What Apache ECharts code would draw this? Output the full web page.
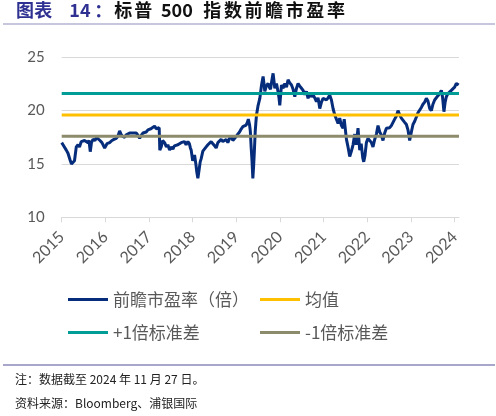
<!DOCTYPE html>
<html>
<head>
<meta charset="utf-8">
<script src="https://cdn.jsdelivr.net/npm/echarts@6/dist/echarts.min.js"></script>
<style>
  html, body { margin: 0; padding: 0; background: #fff; }
  #chart { width: 496px; height: 416px; }
</style>
</head>
<body>
<div id="chart"></div>
<script>
// 横轴位置（年，按图中刻度读出）
const years = [
  2015.000, 2015.030, 2015.064, 2015.105, 2015.144, 2015.190, 2015.224, 2015.259, 2015.293, 2015.334,
  2015.373, 2015.407, 2015.449, 2015.487, 2015.522, 2015.563, 2015.602, 2015.625, 2015.654, 2015.682,
  2015.716, 2015.762, 2015.796, 2015.831, 2015.876, 2015.922, 2015.984, 2016.037, 2016.098, 2016.151,
  2016.197, 2016.249, 2016.288, 2016.327, 2016.357, 2016.391, 2016.442, 2016.471, 2016.506, 2016.556,
  2016.597, 2016.632, 2016.666, 2016.707, 2016.746, 2016.785, 2016.826, 2016.860, 2016.895, 2016.936,
  2016.975, 2017.014, 2017.043, 2017.078, 2017.128, 2017.165, 2017.204, 2017.233, 2017.247, 2017.279,
  2017.313, 2017.357, 2017.398, 2017.432, 2017.471, 2017.513, 2017.547, 2017.581, 2017.622, 2017.661,
  2017.696, 2017.735, 2017.776, 2017.810, 2017.849, 2017.890, 2017.924, 2017.947, 2017.966, 2018.000,
  2018.043, 2018.073, 2018.096, 2018.119, 2018.149, 2018.172, 2018.195, 2018.233, 2018.268, 2018.309,
  2018.348, 2018.382, 2018.423, 2018.462, 2018.503, 2018.538, 2018.577, 2018.611, 2018.652, 2018.691,
  2018.730, 2018.767, 2018.805, 2018.844, 2018.886, 2018.920, 2018.959, 2019.000, 2019.034, 2019.073,
  2019.114, 2019.149, 2019.183, 2019.224, 2019.252, 2019.275, 2019.302, 2019.320, 2019.339, 2019.359,
  2019.378, 2019.396, 2019.414, 2019.432, 2019.446, 2019.462, 2019.499, 2019.538, 2019.577, 2019.613,
  2019.634, 2019.652, 2019.686, 2019.728, 2019.755, 2019.783, 2019.812, 2019.842, 2019.881, 2019.920,
  2019.954, 2019.977, 2019.995, 2020.034, 2020.071, 2020.110, 2020.149, 2020.185, 2020.224, 2020.263,
  2020.300, 2020.339, 2020.378, 2020.414, 2020.453, 2020.492, 2020.529, 2020.567, 2020.606, 2020.643,
  2020.682, 2020.721, 2020.757, 2020.796, 2020.835, 2020.872, 2020.911, 2020.950, 2020.986, 2021.025,
  2021.064, 2021.101, 2021.140, 2021.178, 2021.215, 2021.254, 2021.293, 2021.330, 2021.368, 2021.407,
  2021.444, 2021.471, 2021.522, 2021.558, 2021.597, 2021.636, 2021.673, 2021.712, 2021.746, 2021.787,
  2021.826, 2021.860, 2021.895, 2021.918, 2021.947, 2021.979, 2022.016, 2022.055, 2022.094, 2022.130,
  2022.169, 2022.208, 2022.245, 2022.284, 2022.323, 2022.359, 2022.398, 2022.437, 2022.474, 2022.513,
  2022.551, 2022.588, 2022.627, 2022.666, 2022.703, 2022.741, 2022.780, 2022.817, 2022.856, 2022.895,
  2022.931, 2022.970, 2023.009, 2023.046, 2023.085, 2023.124, 2023.160, 2023.199, 2023.238, 2023.275,
  2023.314, 2023.352, 2023.389, 2023.428, 2023.467, 2023.503, 2023.542, 2023.581, 2023.618, 2023.657,
  2023.696, 2023.725, 2023.755, 2023.783, 2023.810, 2023.847, 2023.886, 2023.924, 2023.961, 2024.000,
  2024.039, 2024.069, 2024.092
];

// 前瞻市盈率（倍）
const forwardPE = [
  17.0, 16.8, 16.9, 16.3, 16.0, 15.4, 15.0, 14.9, 15.3, 16.6,
  16.8, 16.6, 17.1, 17.0, 17.2, 17.3, 17.0, 17.2, 16.15, 17.0,
  17.3, 17.2, 17.5, 17.4, 17.2, 17.0, 16.5, 16.9, 17.0, 17.2,
  17.3, 17.4, 17.6, 18.1, 17.8, 17.6, 17.5, 17.7, 17.6, 17.9,
  17.8, 17.9, 17.8, 17.9, 17.7, 17.4, 17.7, 17.9, 17.8, 18.0,
  18.2, 18.1, 18.3, 18.4, 18.55, 18.3, 18.2, 18.4, 16.3, 16.6,
  17.2, 17.0, 16.6, 16.8, 16.3, 16.6, 16.4, 16.7, 16.6, 16.8,
  16.7, 17.0, 17.0, 17.1, 16.8, 17.1, 16.9, 16.5, 16.3, 15.3,
  15.85, 15.0, 14.2, 13.65, 14.5, 15.2, 15.5, 16.2, 16.3, 16.6,
  16.8, 16.7, 17.1, 16.9, 16.7, 16.5, 17.0, 17.1, 17.3, 17.1,
  17.0, 17.3, 17.0, 17.4, 17.6, 17.2, 17.3, 17.6, 17.8, 18.0,
  18.3, 18.5, 18.4, 18.65, 18.9, 19.2, 18.7, 18.1, 16.6, 15.3,
  13.65, 14.8, 16.3, 18.0, 18.8, 19.6, 20.5, 21.15, 22.4, 23.2,
  22.5, 21.8, 22.3, 22.55, 22.2, 22.0, 22.8, 23.5, 22.1, 22.55,
  21.8, 21.2, 20.5, 22.4, 22.1, 22.55, 22.2, 22.9, 22.6, 22.4,
  22.0, 21.3, 22.1, 22.55, 22.3, 22.1, 21.9, 21.5, 21.8, 21.15,
  21.6, 21.3, 21.5, 21.2, 20.85, 21.2, 20.2, 20.8, 21.15, 21.3,
  21.0, 21.2, 21.45, 21.0, 20.2, 19.6, 19.5, 18.8, 19.3, 18.6,
  18.35, 19.2, 17.3, 16.6, 15.7, 16.2, 16.8, 17.8, 16.8, 18.35,
  16.3, 16.9, 15.6, 15.2, 15.8, 17.0, 17.4, 17.5, 17.0, 16.6,
  17.3, 17.8, 18.6, 18.0, 17.7, 17.2, 17.9, 18.35, 18.2, 18.4,
  18.6, 18.5, 19.2, 19.5, 20.0, 19.6, 19.3, 19.3, 18.9, 18.7,
  18.2, 17.2, 18.0, 18.7, 19.0, 19.4, 19.8, 19.9, 20.3, 20.6,
  20.8, 21.15, 20.9, 20.2, 20.0, 20.6, 21.0, 21.1, 21.4, 21.6,
  21.9, 21.2, 19.9, 20.8, 21.3, 21.6, 21.7, 21.9, 22.0, 22.2,
  22.55, 22.5, 22.4
];

const xRange = [2015, 2024.1];
const yearTicks = [2015, 2016, 2017, 2018, 2019, 2020, 2021, 2022, 2023, 2024];
const meanValue = 19.6;
const plusOneStd = 21.6;
const minusOneStd = 17.6;

const names = ['前瞻市盈率（倍）', '均值', '+1倍标准差', '-1倍标准差'];
const colors = ['#062D7B', '#FFC000', '#009C96', '#8C8B6B'];

const cnFont = '"Noto Sans CJK SC", "Noto Sans", sans-serif';

// 标题逐字排开，字距较宽
const titleParts = [
  ['a', '图', 18.3], ['a', '表', 35], ['a', '14', 25], ['a', '：', 20],
  ['b', '标', 20], ['b', '普', 26.7], ['b', '500', 42.3], ['b', '指', 20.6],
  ['b', '数', 20.6], ['b', '前', 20.6], ['b', '瞻', 20.6], ['b', '市', 20.6],
  ['b', '盈', 20.6], ['b', '率', 20.6]
];

function flatLine(v) {
  return xRange.map(x => [x, v]);
}

function buildTitle() {
  const rich = {};
  const text = titleParts.map(([k, s, w], i) => {
    const key = k + i;
    rich[key] = {
      width: w,
      align: 'left',
      color: k === 'a' ? '#2E3191' : '#111',
      fontSize: 18,
      fontWeight: 'bold',
      fontFamily: cnFont
    };
    return '{' + key + '|' + s + '}';
  }).join('');
  return { text, rich };
}

const title = buildTitle();

const chart = echarts.init(document.getElementById('chart'), null, { renderer: 'canvas' });

const legendBase = {
  orient: 'vertical',
  top: 291,
  padding: 0,
  itemGap: 16,
  itemWidth: 40,
  itemHeight: 3,
  icon: 'rect',
  selectedMode: false,
  textStyle: { color: '#595959', fontSize: 17, fontFamily: cnFont }
};

chart.setOption({
  animation: false,
  backgroundColor: '#fff',
  color: colors,
  title: {
    left: 16,
    top: 1,
    padding: 0,
    text: title.text,
    textStyle: { rich: title.rich }
  },
  graphic: [
    { type: 'line', shape: { x1: 3, y1: 24, x2: 495, y2: 24 }, style: { stroke: '#8E8DC0', lineWidth: 1.2 } },
    { type: 'line', shape: { x1: 3, y1: 365, x2: 495, y2: 365 }, style: { stroke: '#A9A6CC', lineWidth: 2 } },
    { type: 'text', left: 15, top: 373, style: { text: '注：数据截至 2024 年 11 月 27 日。', fill: '#222', font: '12px ' + cnFont } },
    { type: 'text', left: 15, top: 397, style: { text: '资料来源：Bloomberg、浦银国际', fill: '#222', font: '12px ' + cnFont } }
  ],
  legend: [
    Object.assign({ left: 68, data: [names[0], names[2]] }, legendBase),
    Object.assign({ left: 260, data: [names[1], names[3]] }, legendBase)
  ],
  grid: { left: 61.7, right: 37, top: 57.3, bottom: 198.7 },
  xAxis: {
    type: 'value',
    min: xRange[0],
    max: xRange[1],
    axisLine: { show: true, lineStyle: { color: '#D9D9D9', width: 1 } },
    axisTick: { show: true, length: 5, customValues: yearTicks, lineStyle: { color: '#D9D9D9' } },
    axisLabel: {
      customValues: yearTicks,
      rotate: 45,
      margin: 17,
      color: '#595959',
      fontSize: 16,
      fontFamily: 'Lato, "Open Sans", sans-serif',
      formatter: v => String(Math.round(v))
    },
    splitLine: { show: false }
  },
  yAxis: {
    type: 'value',
    min: 10,
    max: 25,
    interval: 5,
    axisLine: { show: false },
    axisTick: { show: false },
    axisLabel: { color: '#595959', fontSize: 15, margin: 17, fontFamily: 'Lato, "Open Sans", sans-serif' },
    splitLine: { lineStyle: { color: '#D9D9D9', width: 1 } }
  },
  series: [
    {
      name: names[0],
      type: 'line',
      data: years.map((x, i) => [x, forwardPE[i]]),
      symbol: 'none',
      lineStyle: { width: 3, color: colors[0] }
    },
    {
      name: names[1],
      type: 'line',
      data: flatLine(meanValue),
      symbol: 'none',
      lineStyle: { width: 3, color: colors[1] }
    },
    {
      name: names[2],
      type: 'line',
      data: flatLine(plusOneStd),
      symbol: 'none',
      lineStyle: { width: 3, color: colors[2] }
    },
    {
      name: names[3],
      type: 'line',
      data: flatLine(minusOneStd),
      symbol: 'none',
      lineStyle: { width: 3, color: colors[3] }
    }
  ]
});
</script>
</body>
</html>
